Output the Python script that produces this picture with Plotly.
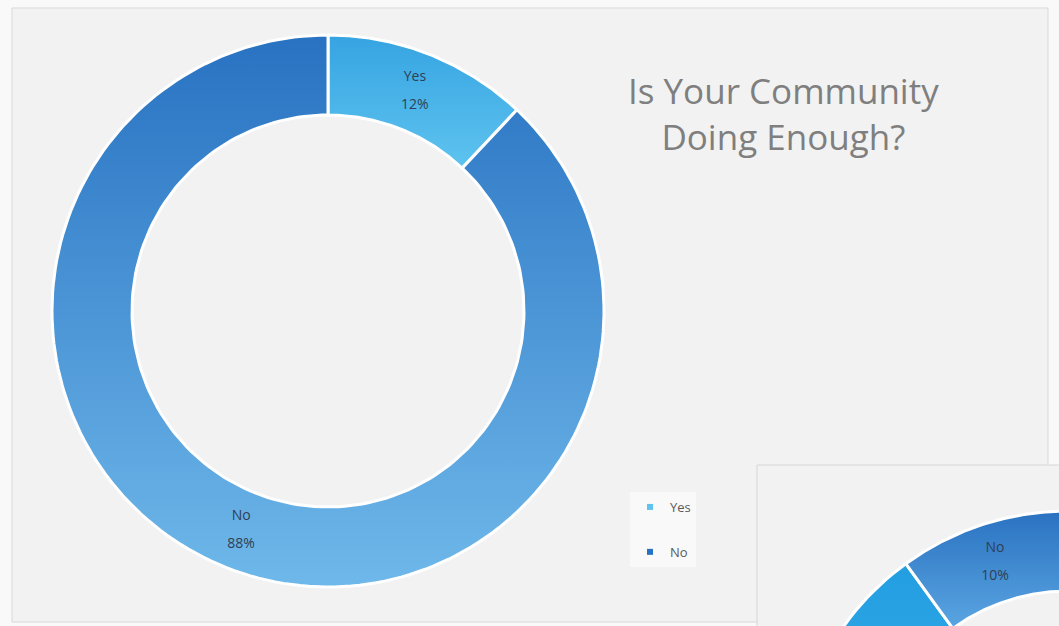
import math
import plotly.graph_objects as go

# Survey answers: main chart
answers = ["Yes", "No"]
main_values = [12, 88]
# top / bottom colours of each slice's vertical gradient
main_grad = [("#36a4e2", "#5ec3ef"), ("#2872c2", "#6fb8ea")]

# Survey answers: second chart (partly visible at the lower right)
second_labels = ["Yes", "No"]
second_values = [90, 10]
second_grad = [("#1c9ae0", "#5ec3ef"), ("#2a72c1", "#5aa5e2")]

title_lines = ["Is Your Community", "Doing Enough?"]

W, H = 1059, 626
LABEL_FONT = dict(family="Open Sans", size=14, color="#2f3f55")

fig = go.Figure()


def add_donut(labels, values, grads, cx, cy, R, r):
    """Draw a donut on the pixel-scaled axes, one filled ring segment per slice."""
    total = sum(values)
    start = 0.0
    for lab, val, (c_top, c_bot) in zip(labels, values, grads):
        a0 = start / total * 2 * math.pi
        a1 = (start + val) / total * 2 * math.pi
        n = 180
        angs = [a0 + (a1 - a0) * i / n for i in range(n + 1)]
        xs = [cx + R * math.sin(a) for a in angs] + [cx + r * math.sin(a) for a in reversed(angs)]
        ys = [cy - R * math.cos(a) for a in angs] + [cy - r * math.cos(a) for a in reversed(angs)]
        xs.append(xs[0])
        ys.append(ys[0])
        fig.add_trace(go.Scatter(
            x=xs, y=ys, mode="lines", fill="toself",
            fillgradient=dict(type="vertical", start=min(ys), stop=max(ys),
                              colorscale=[[0, c_top], [1, c_bot]]),
            line=dict(color="#ffffff", width=3),
            showlegend=False, hoverinfo="skip",
        ))
        # label in the middle of the ring segment: name above, share below
        am = (a0 + a1) / 2
        rm = (R + r) / 2
        lx, ly = cx + rm * math.sin(am), cy - rm * math.cos(am)
        if 0 < lx < W and 0 < ly < H:
            pct = round(val / total * 100)
            fig.add_trace(go.Scatter(
                x=[lx, lx], y=[ly - 14, ly + 14],
                mode="text", text=[lab, f"{pct}%"],
                textfont=LABEL_FONT, showlegend=False, hoverinfo="skip",
            ))
        start += val


add_donut(answers, main_values, main_grad, 328, 311, 276, 196)
add_donut(second_labels, second_values, second_grad, 1068, 787, 276, 196)

# Legend entries for the answers
for lab, (c_top, c_bot) in zip(answers, main_grad):
    fig.add_trace(go.Scatter(
        x=[None], y=[None], mode="markers", name=lab, legendgroup=lab,
        marker=dict(symbol="square", size=6, color=c_top if lab == "No" else c_bot),
    ))

fig.update_layout(
    width=W, height=H,
    margin=dict(l=0, r=0, t=0, b=0),
    paper_bgcolor="#f9f9f9",
    plot_bgcolor="rgba(0,0,0,0)",
    xaxis=dict(range=[0, W], visible=False, fixedrange=True),
    yaxis=dict(range=[H, 0], visible=False, fixedrange=True),
    showlegend=True,
    legend=dict(
        x=630 / W, y=1 - 492 / H, xanchor="left", yanchor="top",
        font=dict(family="Open Sans", size=13, color="#595959"),
        bgcolor="rgba(255,255,255,0.55)",
        tracegroupgap=25,
    ),
    shapes=[
        dict(type="rect", xref="x", yref="y", x0=12, y0=8, x1=1048, y1=622,
             fillcolor="#f2f2f2", line=dict(color="#d9d9d9", width=1), layer="below"),
        dict(type="rect", xref="x", yref="y", x0=757, y0=465, x1=1080, y1=640,
             fillcolor="#f2f2f2", line=dict(color="#d6d6d6", width=1), layer="below"),
    ],
    annotations=[
        dict(x=783, y=113, xref="x", yref="y", showarrow=False,
             text="<br>".join(title_lines), align="center",
             font=dict(family="Open Sans", size=35, color="#7f7f7f")),
    ],
)

fig.write_html("out.html")
